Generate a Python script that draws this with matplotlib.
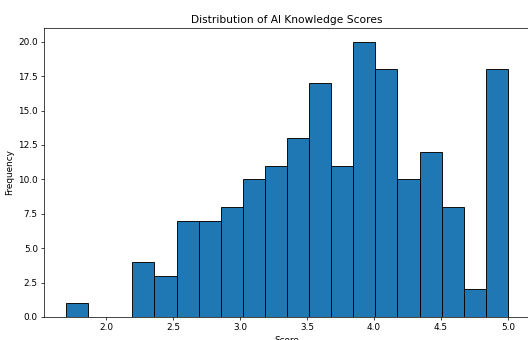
import numpy as np
import matplotlib
matplotlib.use("Agg")
import matplotlib.pyplot as plt

# histogram: 20 bins between 1.7 and 5.0
score_min = 1.7
score_max = 5.0
n_bins = 20
counts = [1, 0, 0, 4, 3, 7, 7, 8, 10, 11, 13, 17, 11, 20, 18, 10, 12, 8, 2, 18]

edges = np.linspace(score_min, score_max, n_bins + 1)
centers = (edges[:-1] + edges[1:]) / 2

dpi = 64
fig = plt.figure(figsize=(528 / dpi, 340 / dpi), dpi=dpi)
ax = fig.add_axes([44 / 528, 23 / 340, 486 / 528, 289 / 340])
ax.hist(centers, bins=edges, weights=counts, edgecolor="black")
ax.set_title("Distribution of AI Knowledge Scores")
ax.set_xlabel("Score")
ax.set_ylabel("Frequency")

fig.savefig("out.png", dpi=dpi)
